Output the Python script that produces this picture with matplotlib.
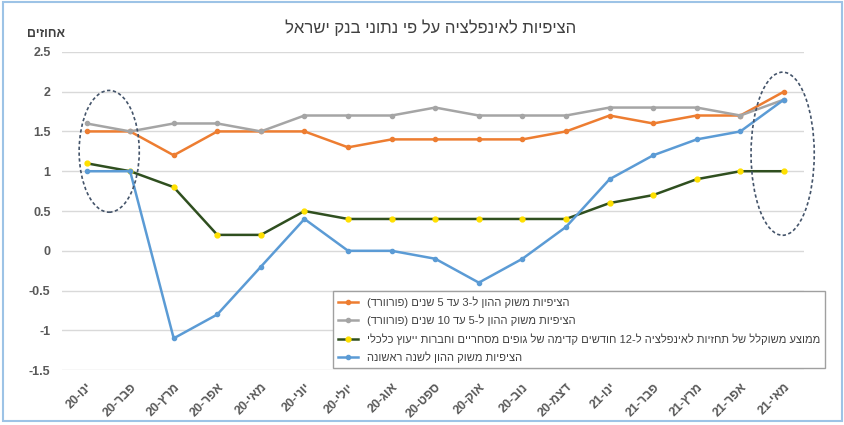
import re
import matplotlib.pyplot as plt
from matplotlib.patches import Ellipse, Rectangle

plt.rcParams['font.family'] = ['Liberation Sans', 'DejaVu Sans']


def vis(s):
    # matplotlib has no bidi support: lay Hebrew out in visual order
    r = s[::-1]
    r = re.sub(r'[0-9A-Za-z.]+', lambda m: m.group(0)[::-1], r)
    return r.translate(str.maketrans('()', ')('))


months = ['ינו-20', 'פבר-20', 'מרץ-20', 'אפר-20', 'מאי-20', 'יוני-20', 'יולי-20',
          'אוג-20', 'ספט-20', 'אוק-20', 'נוב-20', 'דצמ-20', 'ינו-21', 'פבר-21',
          'מרץ-21', 'אפר-21', 'מאי-21']

fwd_3_5 = [1.5, 1.5, 1.2, 1.5, 1.5, 1.5, 1.3, 1.4, 1.4, 1.4, 1.4, 1.5, 1.7, 1.6, 1.7, 1.7, 2.0]
fwd_5_10 = [1.6, 1.5, 1.6, 1.6, 1.5, 1.7, 1.7, 1.7, 1.8, 1.7, 1.7, 1.7, 1.8, 1.8, 1.8, 1.7, 1.9]
forecasters = [1.1, 1.0, 0.8, 0.2, 0.2, 0.5, 0.4, 0.4, 0.4, 0.4, 0.4, 0.4, 0.6, 0.7, 0.9, 1.0, 1.0]
first_year = [1.0, 1.0, -1.1, -0.8, -0.2, 0.4, 0.0, 0.0, -0.1, -0.4, -0.1, 0.3, 0.9, 1.2, 1.4, 1.5, 1.9]

labels = [
    'הציפיות משוק ההון ל-3 עד 5 שנים (פורוורד)',
    'הציפיות משוק ההון ל-5 עד 10 שנים (פורוורד)',
    'ממוצע משוקלל של תחזיות לאינפלציה ל-12 חודשים קדימה של גופים מסחריים וחברות ייעוץ כלכלי',
    'הציפיות משוק ההון לשנה ראשונה',
]
y_ticks = [2.5, 2, 1.5, 1, 0.5, 0, -0.5, -1, -1.5]

fig = plt.figure(figsize=(8.45, 4.25), dpi=100)
fig.patches.append(Rectangle((0.004, 0.01), 0.992, 0.985, transform=fig.transFigure,
                             fill=False, edgecolor='#9dc3e6', linewidth=1.5))
ax = fig.add_axes([0.073, 0.129, 0.879, 0.749])

x = list(range(len(months)))
ax.plot(x, fwd_3_5, color='#ed7d31', lw=1.8, marker='o', ms=3, label=vis(labels[0]), zorder=3)
ax.plot(x, fwd_5_10, color='#a5a5a5', lw=1.8, marker='o', ms=3, label=vis(labels[1]), zorder=3)
ax.plot(x, forecasters, color='#2f4f1f', lw=1.8, marker='o', ms=3.5, mfc='#ffe000',
        mec='#ffe000', label=vis(labels[2]), zorder=3)
ax.plot(x, first_year, color='#5b9bd5', lw=1.8, marker='o', ms=3, label=vis(labels[3]), zorder=3)

# dashed rings around the start and end of the period
for cx, cy, w, h in [(0.52, 1.25, 1.38, 1.53), (15.97, 1.22, 1.45, 2.05)]:
    ax.add_patch(Ellipse((cx, cy), w, h, fill=False, edgecolor='#44546a',
                         linestyle=(0, (2, 1.5)), linewidth=1.2, zorder=4, clip_on=False))

ax.set_xlim(-0.57, 16.47)
ax.set_ylim(-1.5, 2.5)
ax.set_yticks(y_ticks)
ax.set_yticklabels([f'{v:g}' for v in y_ticks], fontsize=9, color='#595959',
                   fontweight='bold')
ax.set_xticks(x)
ax.set_xticklabels([vis(m) for m in months], rotation=45, ha='right',
                   rotation_mode='anchor', fontsize=9, color='#595959', fontweight='bold')
ax.tick_params(length=0, pad=8)
ax.grid(axis='y', color='#d9d9d9', lw=1)
ax.set_axisbelow(True)
for s in ax.spines.values():
    s.set_visible(False)

fig.text(0.51, 0.935, vis('הציפיות לאינפלציה על פי נתוני בנק ישראל'), ha='center',
         va='center', fontsize=12, color='#404040')
fig.text(0.055, 0.92, vis('אחוזים'), ha='center', va='center', fontsize=9,
         color='#404040', fontweight='bold')

leg = ax.legend(loc='lower right', bbox_to_anchor=(1.035, -0.01), fontsize=8,
                frameon=True, fancybox=False, edgecolor='#a0a0a0', handlelength=1.8,
                borderpad=0.45, labelspacing=0.6, framealpha=1)
for t in leg.get_texts():
    t.set_color('#404040')

fig.savefig('out.png', dpi=100)
